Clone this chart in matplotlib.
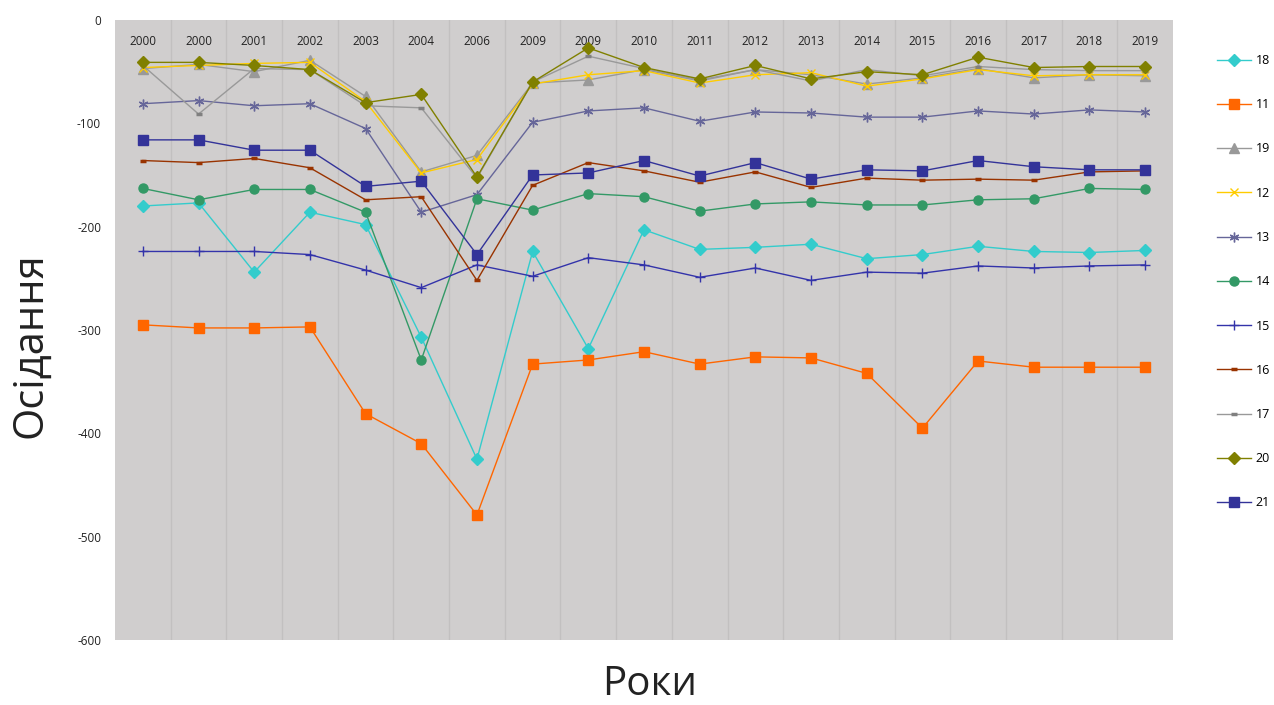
import matplotlib
matplotlib.use("Agg")
import matplotlib.pyplot as plt
from matplotlib.ticker import FixedLocator

plt.rcParams['font.family'] = ['Open Sans', 'DejaVu Sans']

years = ["2000", "2000", "2001", "2002", "2003", "2004", "2006", "2009", "2009", "2010",
         "2011", "2012", "2013", "2014", "2015", "2016", "2017", "2018", "2019"]

s18 = [-180, -177, -244, -186, -198, -307, -425, -224, -318, -203,
       -222, -220, -217, -231, -227, -219, -224, -225, -223]
s11 = [-295, -298, -298, -297, -381, -410, -479, -333, -329, -321,
       -333, -326, -327, -342, -395, -330, -336, -336, -336]
s19 = [-47, -43, -50, -39, -74, -147, -131, -61, -58, -48,
       -59, -48, -53, -62, -56, -47, -56, -53, -54]
s12 = [-46, -44, -42, -41, -79, -148, -135, -62, -53, -49,
       -61, -53, -51, -64, -57, -48, -54, -53, -53]
s13 = [-81, -78, -83, -81, -105, -186, -169, -99, -88, -85,
       -98, -89, -90, -94, -94, -88, -91, -87, -89]
s14 = [-163, -174, -164, -164, -186, -329, -173, -184, -168, -171,
       -185, -178, -176, -179, -179, -174, -173, -163, -164]
s15 = [-224, -224, -224, -227, -242, -259, -237, -248, -230, -237,
       -249, -240, -252, -244, -245, -238, -240, -238, -237]
s16 = [-136, -138, -134, -143, -174, -171, -252, -160, -138, -146,
       -157, -147, -162, -153, -155, -154, -155, -147, -146]
s17 = [-44, -91, -47, -48, -83, -85, -153, -60, -35, -47,
       -58, -48, -59, -48, -54, -45, -48, -49, -49]
s20 = [-41, -41, -44, -48, -80, -72, -152, -60, -27, -46,
       -57, -44, -57, -50, -53, -36, -46, -45, -45]
s21 = [-116, -116, -126, -126, -161, -156, -227, -150, -148, -136,
       -151, -138, -154, -145, -146, -136, -142, -145, -145]

series = [
    ("18", s18, "#33CCCC", "D", 6.0, {}),
    ("11", s11, "#FF6600", "s", 6.5, {}),
    ("19", s19, "#999999", "^", 6.5, {}),
    ("12", s12, "#FFCC00", "x", 6.0, {"markeredgewidth": 1.0}),
    ("13", s13, "#666699", (6, 2, 0), 7.0, {"markeredgewidth": 1.0}),
    ("14", s14, "#339966", "o", 6.5, {}),
    ("15", s15, "#3333AA", "+", 7.0, {"markeredgewidth": 1.0}),
    ("16", s16, "#993300", "_", 4.5, {"markeredgewidth": 2.5}),
    ("17", s17, "#999999", "_", 5.0, {"markeredgewidth": 2.5, "markeredgecolor": "#808080"}),
    ("20", s20, "#808000", "D", 6.5, {}),
    ("21", s21, "#333399", "s", 7.0, {}),
]

W, H = 1274, 705
fig = plt.figure(figsize=(W / 100, H / 100), dpi=100)
ax = fig.add_axes([115 / W, 1 - 640 / H, 1058 / W, 620 / H])
ax.set_facecolor("#D0CECE")
for sp in ax.spines.values():
    sp.set_visible(False)

x = list(range(len(years)))
handles = []
for name, vals, color, marker, ms, extra in series:
    kw = dict(color=color, lw=1.0, marker=marker, markersize=ms,
              markerfacecolor=color, markeredgecolor=color)
    kw.update(extra)
    h, = ax.plot(x, vals, label=name, **kw)
    handles.append(h)

ax.set_xlim(-0.5, len(years) - 0.5)
ax.set_ylim(-600, 0)

# category labels along the zero line at the top
ax.set_xticks(x)
ax.set_xticklabels(years, fontsize=8.5, color="#222222")
ax.tick_params(axis="x", which="major", top=True, labeltop=True, bottom=False,
               labelbottom=False, length=0, pad=-20.5)
ax.xaxis.set_minor_locator(FixedLocator([i + 0.5 for i in range(len(years) - 1)]))
ax.tick_params(axis="x", which="minor", length=0, top=False, bottom=False)
ax.grid(True, axis="x", which="minor", color="#C2C0C0", lw=1.0)
ax.set_axisbelow(True)

ax.set_yticks(range(-600, 1, 100))
ax.set_yticklabels([str(v) for v in range(-600, 1, 100)], fontsize=8.5, color="#222222")
ax.tick_params(axis="y", length=0, pad=10)

fig.text(30 / W, 1 - 345 / H, "Осідання", rotation=90, fontsize=30,
         ha="center", va="center", color="#222222")
fig.text(650 / W, 1 - 685 / H, "Роки", fontsize=29, ha="center", va="center",
         color="#222222")

fig.legend(handles=handles, loc="upper left", bbox_to_anchor=(1212 / W, 1 - 49 / H),
           frameon=False, fontsize=9, handlelength=2.7, handletextpad=0.4,
           labelspacing=2.5, borderaxespad=0)

fig.savefig("out.png", dpi=100)
